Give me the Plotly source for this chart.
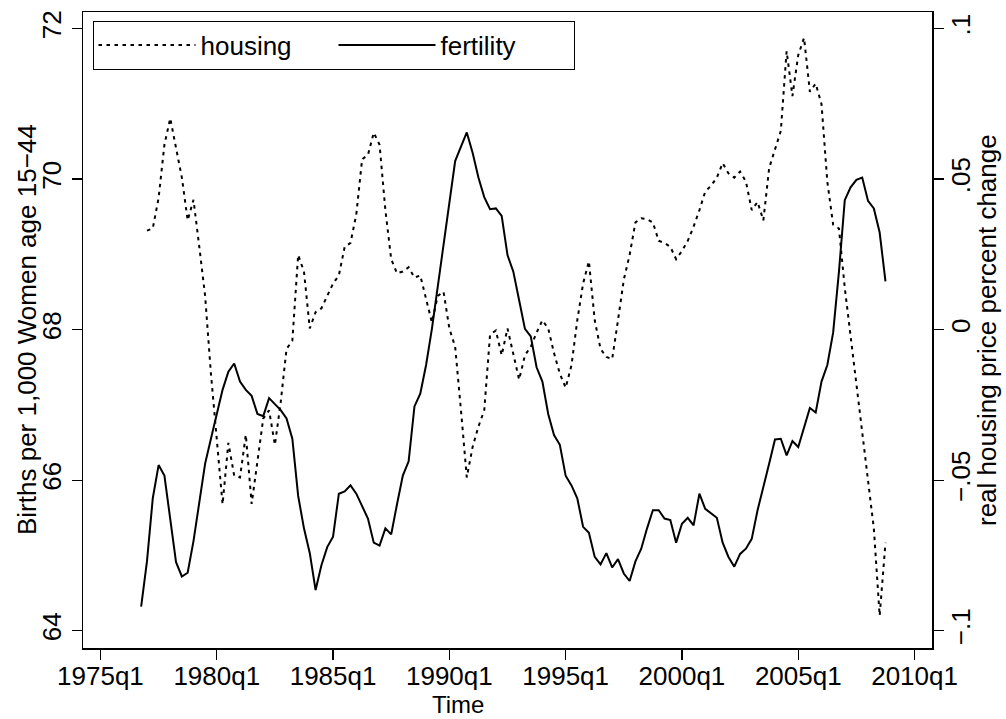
import plotly.graph_objects as go

# ---- data (quarterly) ----
fertility_start = "1976q4"
fertility = [
    64.32, 64.92, 65.76, 66.20, 66.06, 65.47, 64.91, 64.72, 64.77, 65.19,
    65.74, 66.22, 66.55, 66.88, 67.20, 67.44, 67.55, 67.31, 67.20, 67.12,
    66.88, 66.85, 67.09, 67.01, 66.93, 66.82, 66.55, 65.79, 65.36, 65.03,
    64.54, 64.87, 65.11, 65.25, 65.82, 65.85, 65.93, 65.82, 65.66, 65.49,
    65.17, 65.13, 65.36, 65.28, 65.68, 66.06, 66.25, 66.98, 67.15, 67.53,
    68.01, 68.56, 69.15, 69.70, 70.24, 70.43, 70.62, 70.35, 70.02, 69.76,
    69.60, 69.61, 69.51, 68.99, 68.77, 68.39, 68.01, 67.91, 67.50, 67.31,
    66.88, 66.60, 66.47, 66.06, 65.93, 65.76, 65.38, 65.30, 64.98, 64.88,
    65.03, 64.84, 64.95, 64.76, 64.66, 64.92, 65.09, 65.36, 65.60, 65.60,
    65.49, 65.47, 65.17, 65.42, 65.50, 65.40, 65.82, 65.62, 65.56, 65.50,
    65.17, 64.98, 64.85, 65.02, 65.09, 65.22, 65.60, 65.93, 66.22, 66.54,
    66.55, 66.33, 66.52, 66.44, 66.69, 66.96, 66.90, 67.31, 67.53, 67.96,
    68.77, 69.72, 69.89, 69.99, 70.02, 69.71, 69.61, 69.29, 68.64,
]

housing_start = "1977q1"
housing = [
    0.0329, 0.0336, 0.0437, 0.0614, 0.0702, 0.0600, 0.0505, 0.0363, 0.0431, 0.0275,
    0.0112, -0.0146, -0.0363, -0.0580, -0.0376, -0.0485, -0.0491, -0.0349, -0.0579, -0.0430,
    -0.0295, -0.0268, -0.0383, -0.0241, -0.0064, -0.0037, 0.0248, 0.0193, 0.0004, 0.0058,
    0.0071, 0.0112, 0.0153, 0.0180, 0.0275, 0.0288, 0.0383, 0.0566, 0.0580, 0.0654,
    0.0614, 0.0397, 0.0234, 0.0187, 0.0193, 0.0207, 0.0173, 0.0180, 0.0098, 0.0024,
    0.0112, 0.0126, 0.0004, -0.0057, -0.0268, -0.0491, -0.0390, -0.0322, -0.0268, -0.0017,
    -0.0003, -0.0085, 0.0004, -0.0078, -0.0166, -0.0085, -0.0057, -0.0010, 0.0031, 0.0004,
    -0.0078, -0.0146, -0.0193, -0.0119, 0.0031, 0.0153, 0.0227, 0.0031, -0.0064, -0.0091,
    -0.0098, 0.0031, 0.0166, 0.0248, 0.0356, 0.0370, 0.0367, 0.0356, 0.0295, 0.0288,
    0.0275, 0.0234, 0.0261, 0.0295, 0.0342, 0.0397, 0.0458, 0.0478, 0.0505, 0.0553,
    0.0519, 0.0505, 0.0525, 0.0492, 0.0397, 0.0424, 0.0363, 0.0537, 0.0600, 0.0660,
    0.0925, 0.0776, 0.0912, 0.0969, 0.0790, 0.0817, 0.0749, 0.0491, 0.0349, 0.0336,
    0.0139, -0.0024, -0.0173, -0.0335, -0.0498, -0.0661, -0.0950, -0.0708,
]

x_tick_labels = ["1975q1", "1980q1", "1985q1", "1990q1", "1995q1", "2000q1", "2005q1", "2010q1"]
left_tick_vals = [64, 66, 68, 70, 72]
left_tick_text = ["64", "66", "68", "70", "72"]
right_tick_vals = [-0.1, -0.05, 0, 0.05, 0.1]
right_tick_text = ["\u2212.1", "\u2212.05", "0", ".05", ".1"]

x_title = "Time"
left_title = "Births per 1,000 Women age 15\u221244"
right_title = "real housing price percent change"


def qindex(label):
    y, q = label.split("q")
    return int(y) * 4 + int(q) - 1


def qlabels(start, n):
    s = qindex(start)
    return [f"{(s + i) // 4}q{(s + i) % 4 + 1}" for i in range(n)]


fert_q = [qindex(l) for l in qlabels(fertility_start, len(fertility))]
hous_q = [qindex(l) for l in qlabels(housing_start, len(housing))]

FONT = "Liberation Sans, Arial, Helvetica, sans-serif"
FS = 26

fig = go.Figure()
fig.add_trace(go.Scatter(
    x=hous_q, y=housing, name="housing", mode="lines", yaxis="y2",
    line=dict(color="black", width=2, dash="3.5px,4.5px"),
))
fig.add_trace(go.Scatter(
    x=fert_q, y=fertility, name="fertility", mode="lines", yaxis="y",
    line=dict(color="black", width=2),
))

lo, hi = 63.77, 72.22
W, H = 1006, 719
ML, MR, MT, MB = 83, 74, 12, 71
pw, ph = W - ML - MR, H - MT - MB


def px_x(x):
    return (x - ML) / pw


def px_y(y):
    return (H - MB - y) / ph


fig.update_layout(
    width=W, height=H,
    margin=dict(l=ML, r=MR, t=MT, b=MB, autoexpand=False),
    paper_bgcolor="white", plot_bgcolor="white",
    font=dict(family=FONT, size=FS, color="black"),
    showlegend=True,
    legend=dict(
        x=px_x(92.5), y=px_y(20.7), xanchor="left", yanchor="top", orientation="h",
        bordercolor="black", borderwidth=1, bgcolor="white",
        font=dict(family=FONT, size=FS), itemwidth=97, entrywidth=128,
    ),
    xaxis=dict(
        range=[qindex("1975q1") - 3, qindex("2010q1") + 3],
        tickvals=[qindex(l) for l in x_tick_labels], ticktext=x_tick_labels,
        tickfont=dict(family=FONT, size=FS), tickangle=0, automargin=False,
        ticklabelstandoff=-6,
        ticks="outside", ticklen=10, tickwidth=1.3, tickcolor="black",
        showline=True, linecolor="black", linewidth=1.5, mirror=True,
        showgrid=False, zeroline=False,
    ),
    yaxis=dict(
        range=[lo, hi], tickvals=left_tick_vals, ticktext=left_tick_text,
        tickangle=-90, tickfont=dict(family=FONT, size=FS),
        automargin=False,
        ticks="outside", ticklen=10, tickwidth=1.3, tickcolor="black",
        showline=True, linecolor="black", linewidth=1.5,
        showgrid=False, zeroline=False,
    ),
    yaxis2=dict(
        range=[(lo - 68) * 0.025, (hi - 68) * 0.025], overlaying="y", side="right",
        tickvals=right_tick_vals, ticktext=right_tick_text, tickangle=-90,
        tickfont=dict(family=FONT, size=FS), ticklabelstandoff=-5,
        automargin=False,
        ticks="outside", ticklen=10, tickwidth=1.3, tickcolor="black",
        showline=True, linecolor="black", linewidth=1.5,
        showgrid=False, zeroline=False,
    ),
    annotations=[
        dict(text=x_title, xref="paper", yref="paper", x=px_x(458), y=px_y(719),
             xanchor="center", yanchor="bottom", showarrow=False, borderpad=0,
             font=dict(family=FONT, size=24)),
        dict(text=left_title, xref="paper", yref="paper", x=px_x(27), y=0.5,
             xanchor="center", yanchor="middle", showarrow=False, textangle=-90,
             font=dict(family=FONT, size=FS)),
        dict(text=right_title, xref="paper", yref="paper", x=px_x(987), y=0.5,
             xanchor="center", yanchor="middle", showarrow=False, textangle=-90,
             font=dict(family=FONT, size=FS)),
    ],
)

fig.write_html(
    "out.html",
    config={"displayModeBar": False, "staticPlot": True},
    post_script="document.body.style.margin='0px';",
)
